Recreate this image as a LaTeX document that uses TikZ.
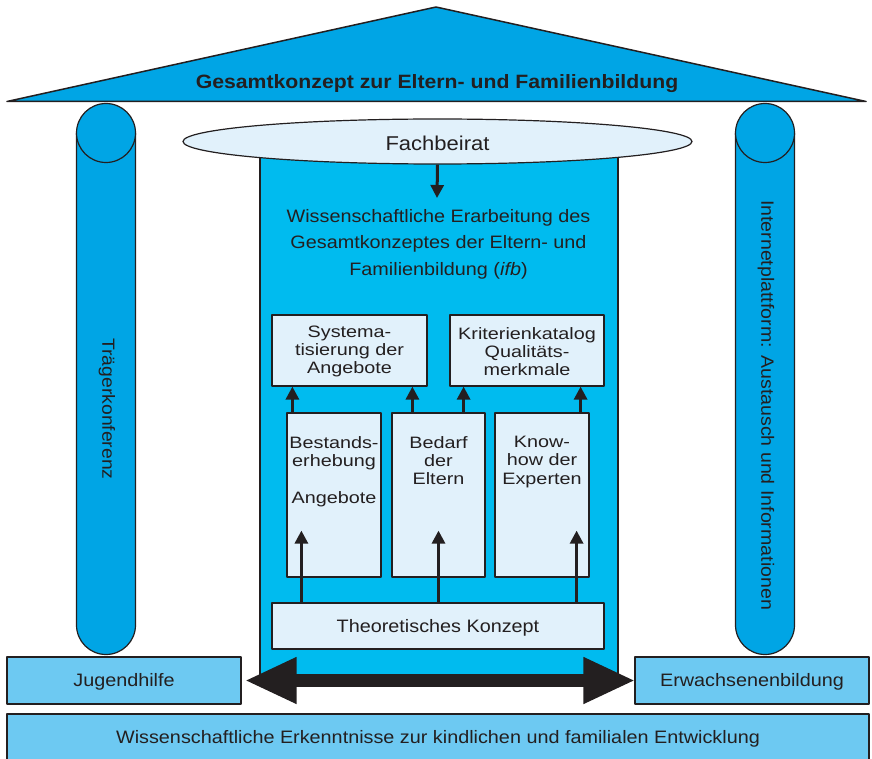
\documentclass[tikz,border=0pt]{standalone}
\usepackage{fontspec}
\setmainfont[FakeStretch=1.1]{Liberation Sans}
\newfontfamily\boxfont[FakeStretch=1.2]{Liberation Sans}
\usetikzlibrary{arrows.meta,shapes.geometric}
\definecolor{roofc}{HTML}{00A5E5}
\definecolor{midc}{HTML}{00BBEF}
\definecolor{lightc}{HTML}{E1F1FB}
\definecolor{basec}{HTML}{6DC9F2}
\definecolor{ink}{HTML}{231F20}
\begin{document}
\begin{tikzpicture}[x=1pt,y=-1pt, line join=round,
  outl/.style={draw=ink, line width=1.2pt},
  lbox/.style={outl, fill=lightc, inner sep=0pt},
  bbox/.style={outl, fill=basec, inner sep=0pt},
  txt/.style={text=ink, inner sep=0pt},
  boxtxt/.style={txt, font=\boxfont\fontsize{16.5}{18.3}\selectfont, align=center},
  onel/.style={font=\fontsize{18}{22}\selectfont, text=ink, text height=1.4em, text depth=0.2em},
  arr/.style={draw=ink, line width=3pt, -{Triangle[width=13pt,length=13pt]}},
]
\useasboundingbox (0,0) rectangle (872,759);

% roof
\path[outl, line width=1.5pt, fill=roofc] (7,101.5) -- (436,7) -- (866,101.5) -- cycle;
\node[txt, anchor=base, font=\bfseries\fontsize{19.3}{22}\selectfont] (title) at (437,89) {Gesamtkonzept zur Eltern- und Familienbildung};

% columns
\path[outl, fill=roofc] (76.5,133) -- (76.5,625) arc[start angle=180, end angle=0, radius=29.5] -- (135.5,133) -- cycle;
\draw[outl, fill=roofc] (106,133) circle[radius=29.5];
\path[outl, fill=roofc] (735.5,133) -- (735.5,625) arc[start angle=180, end angle=0, radius=29.5] -- (794.5,133) -- cycle;
\draw[outl, fill=roofc] (765,133) circle[radius=29.5];
\node[txt, rotate=-90, font=\fontsize{17.6}{20}\selectfont] (traeger) at (107,409) {Trägerkonferenz};
\node[txt, rotate=-90, font=\fontsize{17.8}{20}\selectfont] (internet) at (766,405) {Internetplattform: Austausch und Informationen};

% central body
\path[outl, fill=midc] (260,150) rectangle (618,675);
\node[outl, fill=lightc, ellipse, inner sep=0pt, minimum width=509pt, minimum height=45pt] (fach) at (437.5,141.5) {};
\node[txt, anchor=base, font=\fontsize{20}{24}\selectfont] (fachtxt) at ([yshift=-9.5pt]fach.center) {Fachbeirat};
\coordinate (fachend) at (437,198);
\draw[arr] (fach.south) -- (fachend);

\node[txt, anchor=north, align=center, font=\fontsize{18}{26.3}\selectfont] (wiss) at (438.5,209.3)
  {Wissenschaftliche Erarbeitung des\\Gesamtkonzeptes der Eltern- und\\Familienbildung (\textit{ifb})};

% upper boxes
\node[lbox, minimum width=155pt, minimum height=71pt] (sys) at (349.5,350.5) {};
\node[boxtxt] (systxt) at ([yshift=-1pt]sys.center) {Systema-\\tisierung der\\Angebote};
\node[lbox, minimum width=154pt, minimum height=71pt] (krit) at (527,350.5) {};
\node[boxtxt] (krittxt) at ([yshift=-1pt]krit.center) {Kriterienkatalog\\Qualitäts-\\merkmale};

% middle boxes
\node[lbox, minimum width=94pt, minimum height=164pt] (best) at (334,495) {};
\node[lbox, minimum width=93pt, minimum height=164pt] (bed) at (438.5,495) {};
\node[lbox, minimum width=94pt, minimum height=164pt] (know) at (542,495) {};
\node[boxtxt, anchor=north] (besttxt) at (334,436) {Bestands-\\erhebung\\[18.3pt]Angebote};
\node[boxtxt, anchor=north] (bedtxt) at (438.5,436) {Bedarf\\der\\Eltern};
\node[boxtxt, anchor=north] (knowtxt) at (542,436) {Know-\\how der\\Experten};

% theory box
\node[lbox, onel, minimum width=332pt, minimum height=46pt] (theo) at (438,626) {Theoretisches Konzept};

% arrows upward to top boxes
\draw[arr] ([xshift=6pt]best.north west) -- ([xshift=6pt]best.north west |- sys.south);
\draw[arr] ([xshift=21pt]bed.north west) -- ([xshift=21pt]bed.north west |- sys.south);
\draw[arr] ([xshift=-22pt]bed.north east) -- ([xshift=-22pt]bed.north east |- krit.south);
\draw[arr] ([xshift=-9pt]know.north east) -- ([xshift=-9pt]know.north east |- krit.south);

% arrows from theory
\coordinate (e1) at ([shift={(15pt,47pt)}]best.south west);
\coordinate (e2) at ([yshift=47pt]bed.south);
\coordinate (e3) at ([shift={(-13pt,47pt)}]know.south east);
\draw[arr] (e1 |- theo.north) -- (e1);
\draw[arr] (e2 |- theo.north) -- (e2);
\draw[arr] (e3 |- theo.north) -- (e3);

% base
\node[bbox, onel, minimum width=234pt, minimum height=47pt] (jug) at (124,680.5) {Jugendhilfe};
\node[bbox, onel, minimum width=234pt, minimum height=47pt] (erw) at (752,680.5) {Erwachsenenbildung};
\draw[ink, line width=13pt, {Triangle[width=43pt,length=52pt]}-{Triangle[width=43pt,length=52pt]}]
  ([xshift=3pt]jug.east) -- ([xshift=1pt]erw.west);
\node[bbox, onel, minimum width=862pt, minimum height=46pt] (wiss2) at (438,737)
  {Wissenschaftliche Erkenntnisse zur kindlichen und familialen Entwicklung};
\end{tikzpicture}
\end{document}
